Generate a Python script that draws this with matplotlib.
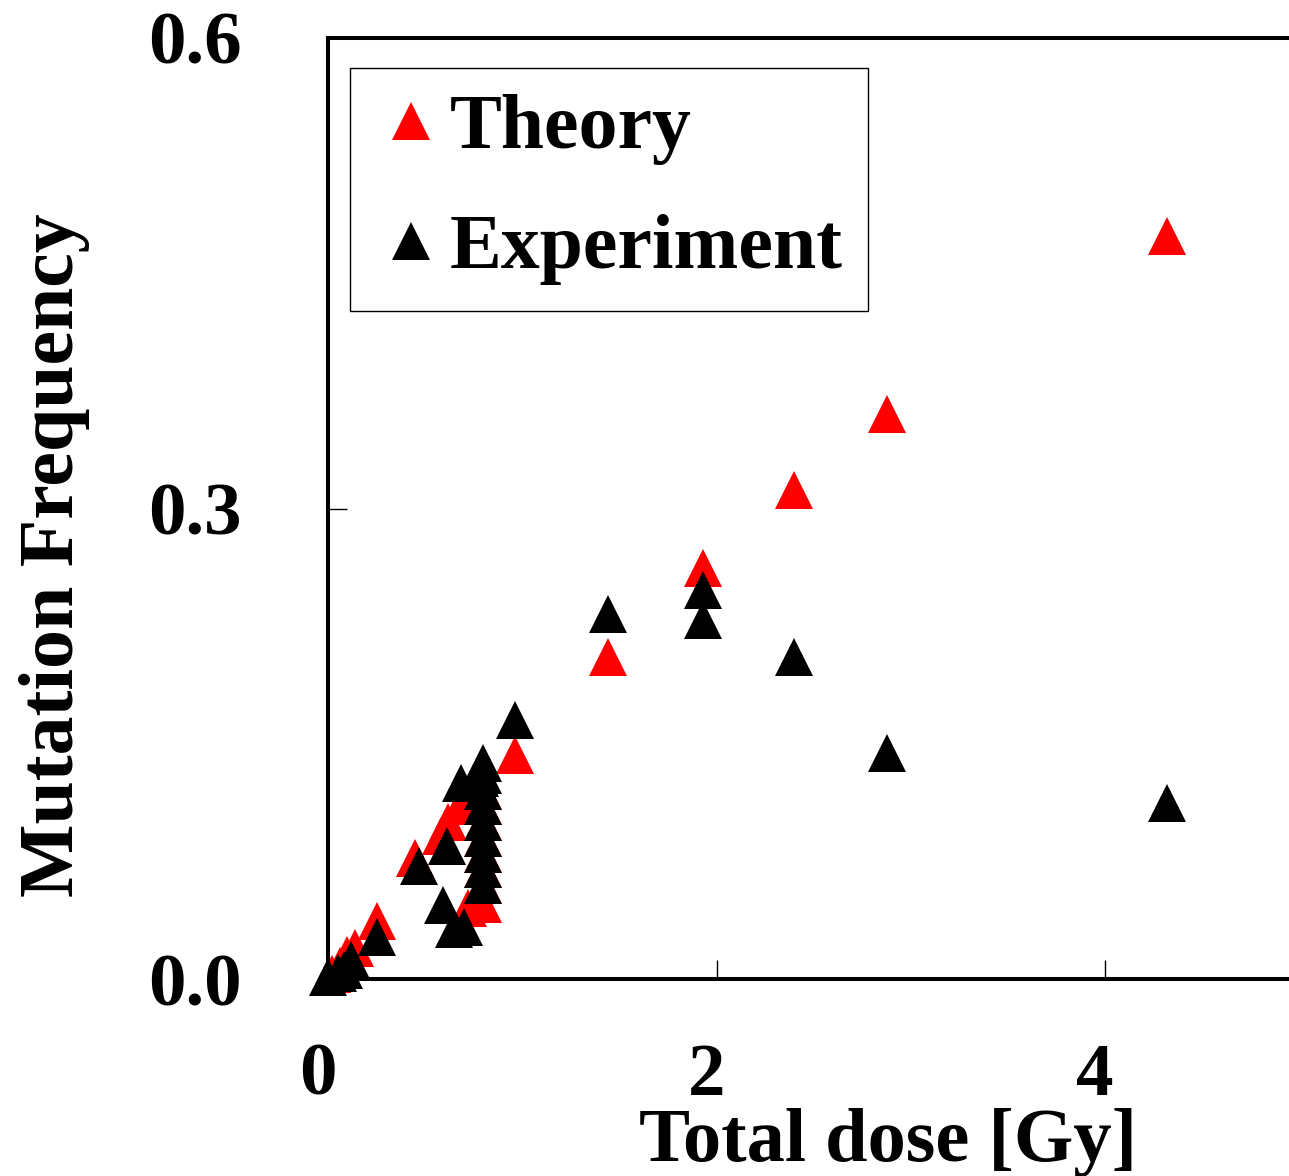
import matplotlib
matplotlib.use("Agg")
import matplotlib.pyplot as plt
import matplotlib.transforms as mtransforms

# Theory (red) points
theory_dose = [0.02, 0.06, 0.10, 0.14, 0.25, 0.45, 0.58, 0.62, 0.68, 0.72,
               0.80, 0.80, 0.80, 0.80, 0.80, 0.80, 0.80, 0.80,
               0.96, 1.44, 1.93, 2.40, 2.88, 4.32]
theory_freq = [0.003, 0.008, 0.015, 0.020, 0.037, 0.077, 0.091, 0.100, 0.110, 0.045,
               0.048, 0.060, 0.070, 0.080, 0.090, 0.100, 0.110, 0.120,
               0.143, 0.205, 0.262, 0.312, 0.360, 0.474]

# Experiment (black) points
exp_dose = [0.00, 0.05, 0.08, 0.12, 0.25, 0.47, 0.61, 0.685, 0.59, 0.65, 0.70,
            0.80, 0.80, 0.80, 0.80, 0.80, 0.80, 0.80, 0.80, 0.80, 0.78,
            0.96, 1.44, 1.93, 1.93, 2.40, 2.88, 4.32]
exp_freq = [0.001, 0.004, 0.006, 0.012, 0.027, 0.072, 0.085, 0.125, 0.047, 0.032, 0.033,
            0.060, 0.070, 0.080, 0.090, 0.100, 0.110, 0.120, 0.130, 0.138, 0.128,
            0.165, 0.233, 0.248, 0.229, 0.205, 0.144, 0.112]

x_ticks = [0, 2, 4]
y_ticks = [0.0, 0.3, 0.6]
y_ticklabels = ['0.0', '0.3', '0.6']

plt.rcParams['font.family'] = ['Liberation Serif', 'DejaVu Serif']
plt.rcParams['font.weight'] = 'bold'

fig = plt.figure(figsize=(12.89, 11.76), dpi=100)
ax = fig.add_axes([0.2545, 0.1675, 0.7535, 0.8002])

ms = 28
ax.plot(theory_dose, theory_freq, linestyle='none', marker='^', markersize=ms,
        color='#ff0000', markeredgewidth=0, label='Theory', clip_on=False)
ax.plot(exp_dose, exp_freq, linestyle='none', marker='^', markersize=ms,
        color='black', markeredgewidth=0, label='Experiment', clip_on=False)

ax.set_xlim(0, 5)
ax.set_ylim(0, 0.6)
ax.set_xticks(x_ticks)
ax.set_yticks(y_ticks)
ax.set_yticklabels(y_ticklabels)

for s in ax.spines.values():
    s.set_linewidth(2.9)

ax.tick_params(direction='in', length=14, width=1.0, labelsize=54)
ax.tick_params(axis='x', pad=46)
ax.tick_params(axis='y', pad=62)

# x tick labels sit a bit left of their ticks in the original
shift = mtransforms.ScaledTranslation(-10 / 100, 0, fig.dpi_scale_trans)
for lab in ax.get_xticklabels():
    lab.set_transform(lab.get_transform() + shift)

ax.set_xlabel('Total dose [Gy]', fontsize=55, fontweight='bold')
ax.xaxis.set_label_coords(0.577, -0.137)
ax.set_ylabel('Mutation Frequency', fontsize=56, fontweight='bold')
ax.yaxis.set_label_coords(-0.245, 0.45)

leg = ax.legend(loc='upper left', bbox_to_anchor=(0.0227, 0.968), fontsize=56,
                frameon=True, fancybox=False, edgecolor='black', framealpha=1,
                borderpad=0.33, labelspacing=0.62, handlelength=0.9,
                handletextpad=0.05, borderaxespad=0)
leg.get_frame().set_linewidth(1.0)
for t in leg.get_texts():
    t.set_fontweight('bold')

fig.savefig('out.png', dpi=100)
